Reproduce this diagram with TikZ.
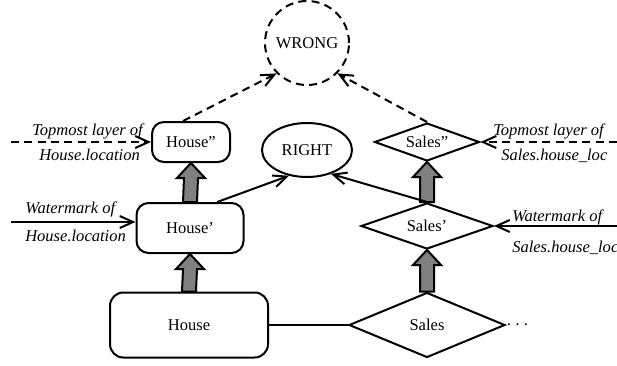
\documentclass[tikz,border=0pt]{standalone}
\usepackage{fontspec}
\setmainfont{Liberation Serif}
\usetikzlibrary{positioning}
\usetikzlibrary{shapes.geometric}
\usetikzlibrary{arrows.meta}
\usetikzlibrary{calc}

\tikzset{
  every node/.style={font=\fontsize{12.4}{14}\selectfont},
  ent/.style={draw, line width=1.5pt, rounded corners=9pt, inner sep=0pt},
  rel/.style={draw, diamond, line width=1.5pt, inner sep=0pt},
  link/.style={line width=1.5pt, -{Straight Barb[length=10pt,width=9pt]}},
  dlink/.style={link, dash pattern=on 6pt off 4pt},
  note/.style={font=\fontsize{12.4}{14}\selectfont\itshape, inner sep=0pt, anchor=base west},
  blockarrow/.style={draw, line width=1.5pt, fill=gray, line join=miter}
}

% thick grey arrow from the top of #1 up to the bottom of #2
\newcommand{\upblock}[2]{%
  \draw[blockarrow] ($(#1.north)+(-7,0)$) -- ($(#2.south)+(-7,15)$)
    -- ($(#2.south)+(-14,15)$) -- (#2.south) -- ($(#2.south)+(14,15)$)
    -- ($(#2.south)+(7,15)$) -- ($(#1.north)+(7,0)$) -- cycle;}

\begin{document}
\begin{tikzpicture}[x=0.75pt,y=-0.75pt]
\useasboundingbox (0,0) rectangle (617,365);
\clip (0,0) rectangle (617,365);

\node[draw, circle, dash pattern=on 6pt off 4pt, line width=1.5pt, minimum size=63pt, inner sep=0pt] (W) at (307,43) {WRONG};
\node[draw, ellipse, line width=1.5pt, minimum width=67.5pt, minimum height=40.5pt, inner sep=0pt] (R) at (307,150) {RIGHT};

\node[ent, minimum width=58.5pt, minimum height=30pt] (H2) at (191,142) {House''};
\node[ent, minimum width=80.25pt, minimum height=37.5pt] (H1) at (190,228) {House'};
\node[ent, minimum width=118.5pt, minimum height=48.75pt, rounded corners=10pt] (H0) at (189,325) {House};

\node[rel, aspect=2.76, minimum width=78.75pt, minimum height=28.5pt] (S2) at (427,142) {Sales''};
\node[rel, aspect=2.87, minimum width=99pt, minimum height=34.5pt] (S1) at (427,226) {Sales'};
\node[rel, aspect=2.4, minimum width=117pt, minimum height=48.75pt] (S0) at (427,325) {Sales};
\node[right=0pt of S0, inner sep=0pt, font=\fontsize{14}{14}\selectfont] (D) {$\cdots$};

\upblock{H0}{H1}
\upblock{H1}{H2}
\upblock{S0}{S1}
\upblock{S1}{S2}

\draw[line width=1.5pt] (H0) -- (S0);
\draw[dlink] ($(H2.north)+(-8,0)$) -- (W.225);
\draw[dlink] (S2.north) -- (W.-45);
\draw[link] ($(H1.north)!0.5!(H1.north east)$) -- (R.235);
\draw[link] (S1.north) -- (R.-45);

\coordinate (tl) at (11,142);
\coordinate (wl) at (11,222);
\coordinate (tr) at (617,142);
\coordinate (wr) at (617,226);
\draw[dlink] (tl) -- (H2.west);
\draw[link] (wl) -- (wl -| H1.west);
\draw[dlink] (tr) -- (S2.east);
\draw[link] (wr) -- (S1.east);

\node[note] (tlA) at (32,135) {Topmost layer of};
\node[note] (tlB) at (39,160) {House.location};
\node[note] (wlA) at (25,213) {Watermark of};
\node[note] (wlB) at (25,241) {House.location};
\node[note] (trA) at (493,135) {Topmost layer of};
\node[note] (trB) at (501,160) {Sales.house\_loc};
\node[note] (wrA) at (512,221) {Watermark of};
\node[note] (wrB) at (512,252) {Sales.house\_loc};
\end{tikzpicture}
\end{document}
